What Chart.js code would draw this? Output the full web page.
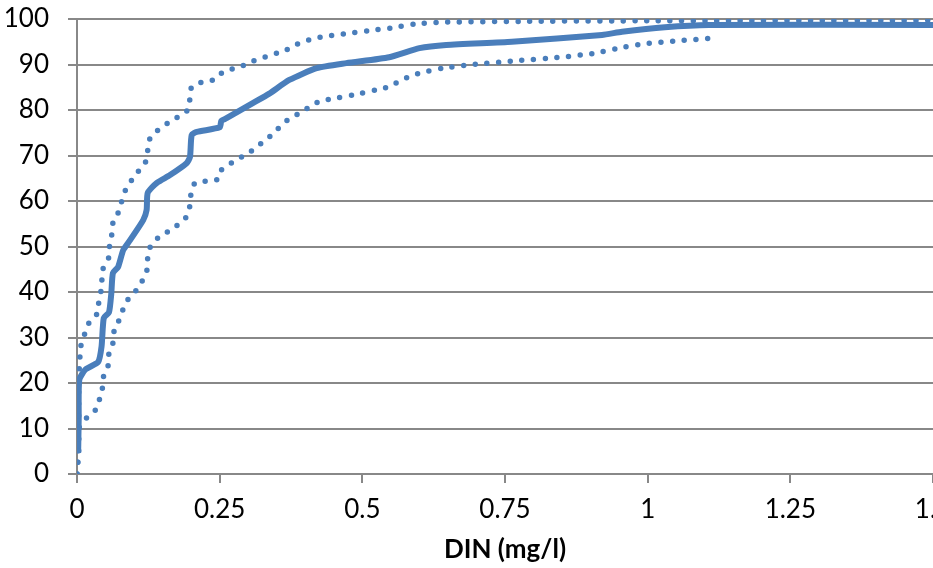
<!DOCTYPE html>
<html>
<head>
<meta charset="utf-8">
<script src="https://cdn.jsdelivr.net/npm/chart.js@4/dist/chart.umd.min.js"></script>
<style>
  html, body { margin: 0; padding: 0; background: #fff; overflow: hidden; }
</style>
</head>
<body>
<canvas id="canvas_din" width="933" height="568"></canvas>
<script>
// median cumulative curve
const medianX = [0.002, 0.003, 0.004, 0.015, 0.037, 0.043, 0.047, 0.056, 0.06, 0.063, 0.072, 0.081, 0.093, 0.116, 0.122, 0.124, 0.14, 0.163, 0.192, 0.198, 0.201, 0.21, 0.25, 0.253, 0.262, 0.308, 0.337, 0.372, 0.42, 0.472, 0.547, 0.6, 0.647, 0.762, 0.92, 0.955, 1.03, 1.107, 1.5];
const medianY = [4.6, 12, 20.7, 23, 24.6, 28, 34.3, 35.5, 39.5, 44.2, 45.5, 49.2, 51.4, 55.8, 58, 61.8, 64, 65.7, 68.3, 69.7, 74.5, 75.2, 76.2, 77.6, 78.2, 81.5, 83.6, 86.6, 89.2, 90.3, 91.6, 93.6, 94.3, 95, 96.5, 97.2, 98.2, 98.7, 98.7];

// upper bound (dotted, left)
const upperX = [0, 0.003, 0.003, 0.003, 0.004, 0.007, 0.014, 0.021, 0.035, 0.038, 0.042, 0.046, 0.056, 0.057, 0.061, 0.063, 0.072, 0.078, 0.085, 0.096, 0.108, 0.121, 0.124, 0.128, 0.142, 0.159, 0.177, 0.194, 0.198, 0.201, 0.219, 0.238, 0.253, 0.271, 0.29, 0.309, 0.329, 0.35, 0.367, 0.386, 0.406, 0.426, 0.467, 0.509, 0.549, 0.591, 0.64, 0.8, 1.0, 1.5];
const upperY = [0, 5, 10, 17.8, 23.3, 28.3, 31, 33.2, 35.2, 37.6, 40.2, 45.3, 47.7, 50.1, 52.7, 55.2, 57.4, 59.8, 62.4, 64.6, 66.6, 68.8, 71.2, 73.8, 75.6, 77.1, 78.5, 80, 82.6, 85.1, 86.1, 86.6, 88.1, 89, 89.7, 90.8, 91.6, 92.5, 93.2, 94.5, 95.4, 96, 96.7, 97.4, 98, 98.9, 99.3, 99.5, 99.6, 99.7];

// lower bound (dotted, right)
const lowerX = [0, 0.002, 0.004, 0.018, 0.034, 0.04, 0.045, 0.047, 0.055, 0.056, 0.063, 0.065, 0.073, 0.081, 0.09, 0.104, 0.115, 0.123, 0.124, 0.129, 0.143, 0.161, 0.178, 0.193, 0.198, 0.2, 0.207, 0.227, 0.247, 0.253, 0.271, 0.289, 0.306, 0.323, 0.339, 0.353, 0.369, 0.387, 0.404, 0.423, 0.444, 0.484, 0.524, 0.544, 0.563, 0.582, 0.601, 0.642, 0.703, 0.766, 0.848, 0.909, 0.949, 0.99, 1.052, 1.115];
const lowerY = [0, 5.3, 10.3, 12.5, 14.3, 16.7, 19.2, 21.8, 24, 26.6, 28.8, 31.4, 33.6, 36.3, 38.5, 40.4, 42.6, 45, 47.7, 50.1, 52, 53.4, 54.9, 56.7, 59.1, 61.8, 64, 64.4, 64.8, 66.8, 68.4, 69.7, 71, 72.7, 74.3, 76, 77.8, 79.1, 80.4, 81.8, 82.4, 83.3, 84.4, 85, 86.2, 87.3, 88.1, 89.2, 90.1, 90.8, 91.6, 92.5, 93.6, 94.5, 95.2, 95.8];

const xTitle = "DIN (mg/l)";

const blue = "rgb(74,126,187)";
const grey = "#888888";
const fontFamily = "Lato, 'Liberation Sans', sans-serif";

function toPoints(xs, ys) {
  return xs.map((x, i) => ({ x: x, y: ys[i] }));
}

const dotted = {
  borderColor: blue,
  borderWidth: 5.5,
  borderDash: [0, 11.7],
  borderCapStyle: "round",
  pointRadius: 0,
  tension: 0.2,
  fill: false,
};

const config = {
  type: "line",
  data: {
    datasets: [
      Object.assign({ label: "upper", data: toPoints(upperX, upperY) }, dotted),
      Object.assign({ label: "lower", data: toPoints(lowerX, lowerY) }, dotted),
      {
        label: "median",
        data: toPoints(medianX, medianY),
        borderColor: blue,
        borderWidth: 6,
        pointRadius: 0,
        tension: 0.2,
        fill: false,
      },
    ],
  },
  options: {
    responsive: false,
    animation: false,
    layout: {
      padding: { top: 19, right: 0, left: 0, bottom: 0 },
    },
    scales: {
      x: {
        type: "linear",
        min: 0,
        max: 1.5,
        afterFit: function (scale) {
          scale.paddingRight = 0;
          scale.paddingLeft = 0;
          scale.height = 94;
        },
        ticks: {
          stepSize: 0.25,
          padding: 11,
          color: "#000",
          maxRotation: 0,
          font: { family: fontFamily, size: 26 },
          callback: (v) => String(Number(v.toFixed(2))),
        },
        grid: {
          drawOnChartArea: false,
          drawTicks: true,
          tickLength: 9,
          color: grey,
          lineWidth: 2,
        },
        border: { color: grey, width: 2 },
        title: {
          display: true,
          text: xTitle,
          color: "#000",
          padding: { top: 0, bottom: 3 },
          font: { family: fontFamily, size: 26, weight: "bold" },
        },
      },
      y: {
        min: 0,
        max: 100,
        afterFit: function (scale) {
          scale.paddingTop = 0;
          scale.paddingBottom = 0;
          scale.width = 77;
        },
        ticks: {
          stepSize: 10,
          padding: 19,
          color: "#000",
          font: { family: fontFamily, size: 26 },
        },
        grid: {
          color: grey,
          lineWidth: 2,
          tickLength: 9,
        },
        border: { color: grey, width: 2 },
      },
    },
    plugins: {
      legend: { display: false },
      tooltip: { enabled: false },
    },
  },
};

window.chart = new Chart(document.getElementById("canvas_din"), config);
</script>
</body>
</html>
